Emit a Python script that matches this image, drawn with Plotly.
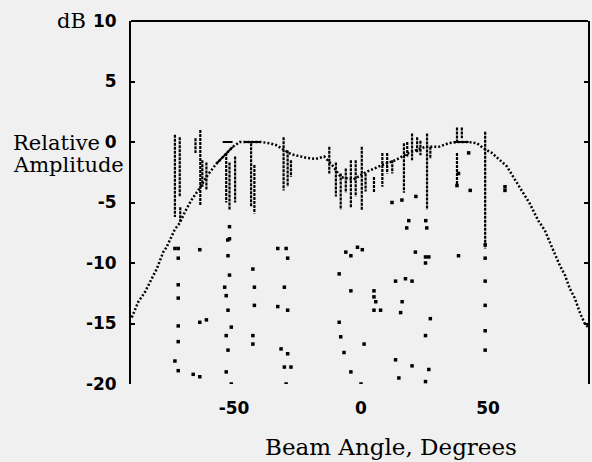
import plotly.graph_objects as go

# envelope (dotted curve), beam angle in degrees vs relative amplitude in dB
env_angle = [-90.3, -87.7, -85.1, -83.1, -80.5, -77.9, -76.6, -73.3, -71.4, -69.4,
             -66.8, -63.5, -60.3, -57.0, -50.5, -47.8, -46.0, -39.5, -36.0, -33.5,
             -27.6, -21.7, -17.8, -14.5, -11.4, -8.0, -3.0, 1.8, 8.4, 13.6,
             18.8, 25.4, 30.6, 34.5, 38.4, 42.4, 45.6, 48.2, 51.5, 54.8,
             57.4, 60.0, 63.3, 66.5, 69.8, 72.4, 75.0, 78.3, 80.3, 82.2,
             84.2, 86.2, 88.1, 89.4]
env_db = [-14.5, -13.2, -12.4, -11.6, -10.5, -9.1, -8.7, -7.2, -6.7, -5.8,
          -4.8, -3.8, -2.7, -1.8, -0.4, 0.0, 0.0, 0.0, -0.1, -0.25,
          -1.0, -1.3, -1.4, -1.2, -1.9, -2.9, -3.1, -2.5, -1.9, -1.5,
          -0.9, -0.4, -0.4, -0.1, 0.0, 0.0, -0.1, -0.5, -0.9, -1.5,
          -2.0, -2.9, -4.0, -5.1, -6.5, -7.3, -8.6, -10.2, -11.0, -12.1,
          -12.9, -14.1, -15.0, -15.3]

# short solid pieces on the envelope
seg_x0 = [-57.0, -54.5, -46.0, 36.5]
seg_x1 = [-50.5, -50.6, -39.5, 42.4]
seg_y0 = [-1.8, 0.0, 0.0, 0.0]
seg_y1 = [-0.4, 0.0, 0.0, 0.0]

# vertical dashed spikes: angle, top dB, bottom dB
spike_angle = [-73.3, -71.4, -71.2, -65.2, -63.3, -62.5, -60.9, -53.1, -51.8, -49.6,
               -43.3, -42.0, -30.5, -28.9, -27.6, -12.5, -9.9, -8.0, -6.0, -4.0,
               -2.1, 0.3, 1.8, 5.1, 8.4, 10.3, 12.3, 16.9, 18.2, 20.1,
               22.1, 23.4, 26.0, 27.3, 37.8, 37.8, 39.7, 48.9]
spike_top = [0.6, 0.4, -5.4, 0.3, 1.0, -1.5, -1.7, -0.9, -1.7, -1.2,
             -0.1, -1.9, 0.4, -0.7, -1.5, -0.4, -1.7, -2.6, -2.2, -1.5,
             -1.5, -0.4, -2.6, -2.9, -0.9, -0.9, -1.5, -0.1, 0.0, 0.7,
             0.4, 0.1, 0.7, -0.4, 1.2, -0.9, 1.2, 0.85]
spike_bottom = [-6.2, -4.5, -6.6, -0.9, -5.2, -3.7, -4.0, -5.0, -5.6, -5.0,
                -5.4, -5.9, -4.0, -3.7, -2.9, -2.6, -4.5, -5.6, -4.2, -5.4,
                -4.5, -5.6, -4.1, -4.2, -3.7, -2.6, -2.6, -4.2, -1.2, -1.5,
                -0.9, -1.1, -5.6, -1.4, -0.1, -3.7, 0.3, -8.8]

# isolated points
dot_angle = [-73.3, -72.0, -72.0, -72.0, -72.0, -72.0, -72.0, -73.3, -72.0,
             -63.5, -63.5, -60.9, -66.1, -63.5,
             -52.5, -52.4, -51.8, -53.7, -53.1, -52.4, -51.1, -53.1, -52.4, -53.1, -51.1,
             -51.8, -51.8,
             -42.6, -42.0, -42.0, -42.6, -42.6,
             -32.8, -29.5, -28.9, -30.2, -32.8, -28.9, -31.5, -28.9, -30.2, -27.6, -29.5,
             -8.6, -4.0, -8.6, -8.0, -6.7, -4.0, 0.0, -6.0, -4.0, -1.4,
             0.5, 21.4, 25.4, 26.7, 25.4, 38.4, 13.6, 17.5, 20.1, 5.1,
             5.1, 5.8, 5.1, 7.7, 16.2, 15.6, 27.3, 25.4, 1.2, 13.6,
             20.1, 26.7, 14.9, 25.4,
             12.2, 16.1, 21.6, 18.8, 25.5, 25.9, 18.0,
             48.9, 48.9, 48.9, 48.9, 48.9, 48.9,
             56.7, 56.7, 42.4, 38.4, 37.8, 43.0]
dot_db = [-8.8, -8.8, -9.6, -11.8, -12.9, -15.2, -16.5, -18.1, -18.9,
          -8.9, -14.9, -14.7, -19.2, -19.4,
          -8.1, -9.4, -11.0, -12.0, -12.7, -13.9, -15.3, -16.0, -17.2, -19.0, -20.0,
          -7.0, -8.0,
          -10.5, -12.0, -13.5, -16.0, -16.7,
          -8.8, -8.8, -9.6, -12.0, -13.6, -13.9, -17.1, -17.5, -18.6, -18.6, -20.0,
          -10.9, -12.3, -14.9, -16.1, -17.4, -19.0, -20.0, -9.1, -9.4, -8.7,
          -8.9, -9.1, -9.5, -9.5, -10.0, -9.4, -11.5, -11.3, -11.5, -12.3,
          -12.8, -13.2, -13.9, -13.9, -13.2, -14.1, -14.6, -16.0, -16.7, -18.0,
          -18.5, -18.8, -19.5, -19.8,
          -5.0, -4.8, -4.5, -6.5, -6.5, -7.1, -7.1,
          -8.5, -9.6, -11.5, -13.5, -15.6, -17.2,
          -3.7, -4.0, -0.9, -2.6, -3.6, -4.0]

y_ticks = [-20, -15, -10, -5, 0, 5, 10]
y_tick_text = ["-20", "-15", "-10", "-5", "0", "5", "10"]
x_ticks = [-50, 0, 50]
x_tick_text = ["-50", "0", "50"]

BG = "#f0f0f0"
SERIF = "DejaVu Serif, Liberation Serif, serif"
SANS = "DejaVu Sans, Liberation Sans, sans-serif"

fig = go.Figure()

# spikes as one broken line
sx, sy = [], []
for a, t, b in zip(spike_angle, spike_top, spike_bottom):
    sx += [a, a, None]
    sy += [t, b, None]
fig.add_trace(go.Scatter(x=sx, y=sy, mode="lines",
                         line=dict(color="black", width=2.2, dash="3px,1px"),
                         hoverinfo="skip"))

# envelope
fig.add_trace(go.Scatter(x=env_angle, y=env_db, mode="lines",
                         line=dict(color="black", width=2.5, dash="2px,2px"),
                         hoverinfo="skip"))

gx, gy = [], []
for x0, x1, y0, y1 in zip(seg_x0, seg_x1, seg_y0, seg_y1):
    gx += [x0, x1, None]
    gy += [y0, y1, None]
fig.add_trace(go.Scatter(x=gx, y=gy, mode="lines",
                         line=dict(color="black", width=2), hoverinfo="skip"))

fig.add_trace(go.Scatter(x=dot_angle, y=dot_db, mode="markers",
                         marker=dict(color="black", size=3.5, symbol="square"),
                         hoverinfo="skip"))

fig.update_layout(
    width=592, height=462, autosize=False,
    margin=dict(l=131, r=2, t=21, b=78),
    paper_bgcolor=BG, plot_bgcolor=BG,
    showlegend=False,
    xaxis=dict(range=[-90.6, 89.4], tickvals=x_ticks, ticktext=x_tick_text,
               showgrid=False, zeroline=False,
               showline=False, ticks="", ticklabelstandoff=12,
               tickfont=dict(family=SANS, size=17, color="black", weight="bold")),
    yaxis=dict(range=[-20, 10], tickvals=y_ticks, ticktext=y_tick_text,
               showgrid=False, zeroline=False,
               showline=True, linewidth=2, linecolor="black", mirror="ticks",
               ticks="inside", ticklen=4, tickwidth=2, tickcolor="black",
               ticklabelstandoff=9,
               tickfont=dict(family=SANS, size=17, color="black", weight="bold")),
)

# top border
fig.add_shape(type="line", xref="paper", yref="paper", x0=0, x1=1, y0=1, y1=1,
              line=dict(color="black", width=2))

fig.add_annotation(text="dB", xref="paper", yref="paper", x=-0.13, y=1.0,
                   xanchor="center", yanchor="middle", showarrow=False,
                   font=dict(family=SERIF, size=21, color="black"))
fig.add_annotation(text="Relative", xref="paper", yref="paper",
                   x=-0.2636, y=0.664, xanchor="left", yanchor="middle",
                   showarrow=False, font=dict(family=SERIF, size=21, color="black"))
fig.add_annotation(text="Amplitude", xref="paper", yref="paper",
                   x=-0.2636, y=0.604, xanchor="left", yanchor="middle",
                   showarrow=False, font=dict(family=SERIF, size=21, color="black"))
fig.add_annotation(text="Beam Angle, Degrees", xref="paper", yref="paper",
                   x=0.569, y=-0.174, xanchor="center", yanchor="middle",
                   showarrow=False, font=dict(family=SERIF, size=23, color="black"))

fig.write_html("out.html", config={"displayModeBar": False},
               post_script="document.body.style.margin='0';"
                           "document.body.style.overflow='hidden';")
